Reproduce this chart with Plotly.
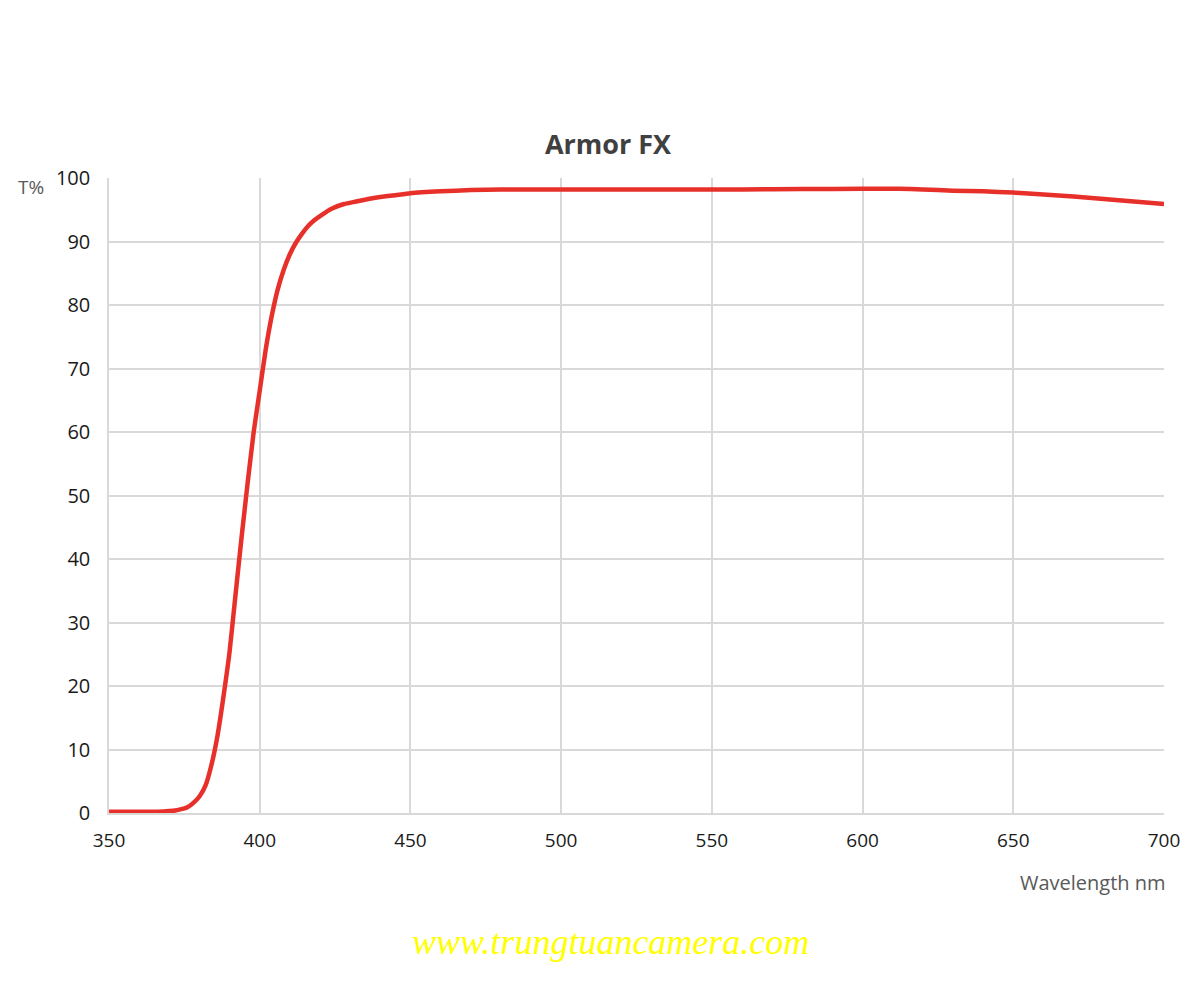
import plotly.graph_objects as go

wavelength = [350, 355, 360, 365, 368, 370, 372, 374, 376, 378, 380, 382, 384, 386, 388,
              390, 392, 394, 396, 398, 400, 402, 404, 406, 408, 410, 412, 414, 416, 418,
              420, 424, 428, 432, 436, 440, 445, 450, 460, 470, 480, 500, 520, 540, 560,
              580, 600, 612, 620, 630, 640, 650, 660, 670, 680, 690, 700]
transmission = [0.2, 0.2, 0.2, 0.2, 0.25, 0.3, 0.4, 0.6, 0.9, 1.6, 2.6, 4.3, 7.6, 12.2, 18.4,
                25.4, 34.5, 43.5, 52.0, 60.0, 66.5, 73.0, 78.3, 82.5, 85.6, 88.0, 89.8, 91.2, 92.4, 93.3,
                94.0, 95.2, 95.9, 96.3, 96.7, 97.0, 97.3, 97.6, 97.9, 98.1, 98.2, 98.2, 98.2, 98.2, 98.2,
                98.25, 98.3, 98.3, 98.2, 98.0, 97.9, 97.7, 97.4, 97.1, 96.7, 96.3, 95.9]

x_ticks = [350, 400, 450, 500, 550, 600, 650, 700]
y_ticks = [0, 10, 20, 30, 40, 50, 60, 70, 80, 90, 100]

fig = go.Figure()
fig.add_trace(go.Scatter(
    x=wavelength, y=transmission, mode="lines",
    line=dict(color="#e8302a", width=4.5, shape="spline", smoothing=0.6),
    showlegend=False, hoverinfo="x+y",
))

grid = "#d9d9d9"
fnt = "Open Sans, Noto Sans, sans-serif"
fig.update_layout(
    width=1200, height=1000,
    paper_bgcolor="white", plot_bgcolor="white",
    margin=dict(l=101, r=44, t=170, b=195),
    title=dict(text="<b>Armor FX</b>", x=0.5, xanchor="center", y=0.863, yanchor="middle",
               font=dict(family=fnt, size=27, color="#404040")),
    font=dict(family=fnt, size=20, color="#1a1a1a"),
    xaxis=dict(range=[350, 700], tickvals=x_ticks, showgrid=True, gridcolor=grid, gridwidth=1.5,
               showline=True, linecolor=grid, linewidth=1.5, zeroline=False, mirror=False,
               ticks="", ticklabelstandoff=9, tickfont=dict(size=19, color="#1a1a1a")),
    yaxis=dict(range=[0, 100], tickvals=y_ticks, showgrid=True, gridcolor=grid, gridwidth=1.5,
               showline=True, linecolor=grid, linewidth=1.5, zeroline=False,
               ticks="", ticklabelstandoff=13, tickfont=dict(size=20, color="#1a1a1a")),
    annotations=[
        dict(text="T%", xref="paper", yref="paper", x=-0.06, y=1.0, xanchor="right", yanchor="middle",
             yshift=-9, showarrow=False,
             font=dict(family=fnt, size=19, color="#595959")),
        dict(text="Wavelength nm", xref="paper", yref="paper", x=1.0, y=0, xanchor="right", yanchor="middle",
             xshift=4, yshift=-69, showarrow=False,
             font=dict(family=fnt, size=20, color="#595959")),
        dict(text="<i>www.trungtuancamera.com</i>", xref="paper", yref="paper", x=0.4758, y=0,
             xanchor="center", yanchor="middle", yshift=-129, showarrow=False,
             font=dict(family="Liberation Serif, DejaVu Serif, serif", size=36, color="#ffff00")),
    ],
)

fig.write_html("out.html")
